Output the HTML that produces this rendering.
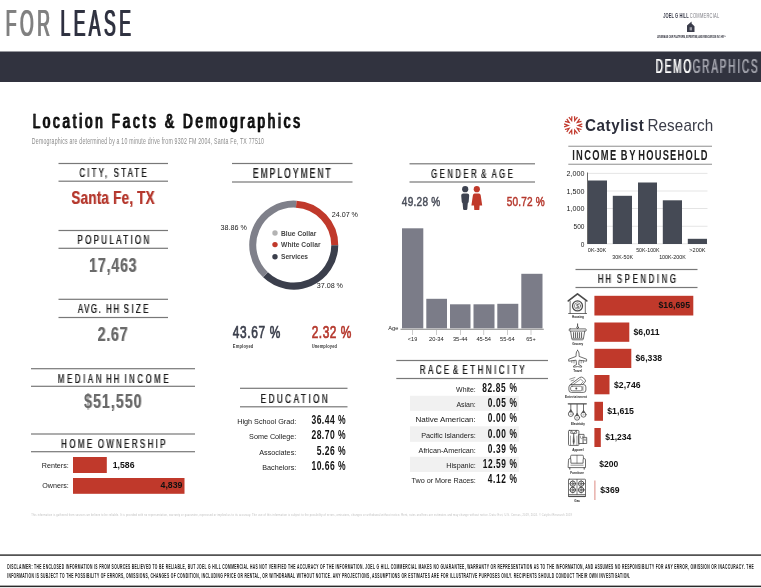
<!DOCTYPE html>
<html lang="en">
<head>
<meta charset="utf-8">
<title>For Lease - Demographics</title>
<style>
html,body{margin:0;padding:0;background:#fff;}
body{width:761px;height:588px;overflow:hidden;}
svg{display:block;will-change:transform;opacity:0.9999;}
svg text{font-family:'Liberation Sans', sans-serif;white-space:pre;}
</style>
</head>
<body>
<svg width="761" height="588" viewBox="0 0 761 588">
<defs><filter id="hb" x="-3%" y="-15%" width="106%" height="130%"><feOffset in="SourceGraphic" dx="1" dy="0" result="o"/><feMerge><feMergeNode in="SourceGraphic"/><feMergeNode in="o"/></feMerge></filter><filter id="hb5" x="-3%" y="-15%" width="106%" height="130%"><feOffset in="SourceGraphic" dx="1" dy="0" result="o"/><feComponentTransfer in="o" result="h"><feFuncA type="linear" slope="0.4"/></feComponentTransfer><feMerge><feMergeNode in="h"/><feMergeNode in="SourceGraphic"/></feMerge></filter></defs>
<rect width="761" height="588" fill="#ffffff"/>
<g id="header">
<g filter="url(#hb)"><text transform="translate(5.23,36.30) scale(0.47,1)" font-size="37.39" font-weight="normal" fill="#808080" textLength="94.30" lengthAdjust="spacing" stroke="#808080" stroke-width="0.2">FOR</text></g>
<g filter="url(#hb)"><text transform="translate(59.93,36.30) scale(0.47,1)" font-size="37.39" font-weight="normal" fill="#2f3140" textLength="149.83" lengthAdjust="spacing" stroke="#2f3140" stroke-width="0.2">LEASE</text></g>
<rect x="0.00" y="51.50" width="761.00" height="30.50" fill="#31333f"/>
<g filter="url(#hb5)"><text transform="translate(655.41,72.88) scale(0.5,1)" font-size="19.93" font-weight="normal" fill="#ffffff" textLength="71.25" lengthAdjust="spacing" stroke="#fff" stroke-width="0.25">DEMO</text></g>
<g filter="url(#hb5)"><text transform="translate(692.51,72.88) scale(0.5,1)" font-size="19.93" font-weight="normal" fill="#a3a4ad" textLength="129.85" lengthAdjust="spacing" stroke="#a3a4ad" stroke-width="0.25">GRAPHICS</text></g>
<text transform="translate(663.26,17.50) scale(0.6,1)" font-size="6.67" font-weight="bold" fill="#3a3c4a" textLength="42.23" lengthAdjust="spacing" >JOEL G HILL</text>
<text transform="translate(689.86,17.50) scale(0.6,1)" font-size="6.67" font-weight="normal" fill="#7d7d84" textLength="48.90" lengthAdjust="spacing" >COMMERCIAL</text>
<g id="house" fill="#3a3c4a"><path d="M687 25.6 L691.6 21.6 L691.6 23.6 L694.5 26.2 L694.5 32 L687 32 Z"/><rect x="689.6" y="27.2" width="2.4" height="3.2" fill="#9a9ba5"/></g>
<text transform="translate(656.92,38.00) scale(0.6,1)" font-size="3.77" font-weight="bold" fill="#33343f" textLength="115.13" lengthAdjust="spacing" >LEVERAGE OUR PLATFORM, EXPERTISE, AND RESOURCES IN 1 HR™</text>
</g>
<g id="title">
<g filter="url(#hb)"><text transform="translate(32.13,128.15) scale(0.68,1)" font-size="19.86" font-weight="normal" fill="#111" textLength="393.19" lengthAdjust="spacing" stroke="#111" stroke-width="0.3">Location Facts &amp; Demographics</text></g>
<text transform="translate(31.82,144.00) scale(0.62,1)" font-size="8.41" font-weight="normal" fill="#8c8c8c" textLength="374.49" lengthAdjust="spacing" >Demographics are determined by a 10 minute drive from 9302 FM 2004, Santa Fe, TX 77510</text>
</g>
<g id="col-left">
<g class="heading">
<rect x="58.5" y="162.90" width="109.50" height="1.2" fill="#787878"/>
<g filter="url(#hb5)"><text transform="translate(79.26,177.00) scale(0.6,1)" font-size="13.04" font-weight="normal" fill="#1e1e1e" textLength="112.00" lengthAdjust="spacing" stroke="#1e1e1e" stroke-width="0.12">CITY, STATE</text></g>
<rect x="58.5" y="180.60" width="109.50" height="1.2" fill="#787878"/>
</g>
<g filter="url(#hb5)"><text transform="translate(71.33,203.80) scale(0.7,1)" font-size="19.13" font-weight="bold" fill="#b5382d" textLength="118.81" lengthAdjust="spacing" >Santa Fe, TX</text></g>
<g class="heading">
<rect x="58.5" y="229.90" width="109.50" height="1.2" fill="#787878"/>
<g filter="url(#hb5)"><text transform="translate(77.26,244.20) scale(0.6,1)" font-size="13.33" font-weight="normal" fill="#1e1e1e" textLength="119.51" lengthAdjust="spacing" stroke="#1e1e1e" stroke-width="0.12">POPULATION</text></g>
<rect x="58.5" y="247.70" width="109.50" height="1.2" fill="#787878"/>
</g>
<g filter="url(#hb5)"><text transform="translate(89.00,271.80) scale(0.72,1)" font-size="19.71" font-weight="bold" fill="#6b6b6b" textLength="65.97" lengthAdjust="spacing" >17,463</text></g>
<g class="heading">
<rect x="58.5" y="298.70" width="109.50" height="1.2" fill="#787878"/>
<g filter="url(#hb5)"><text transform="translate(77.76,313.30) scale(0.6,1)" font-size="13.04" font-weight="normal" fill="#1e1e1e" textLength="38.34" lengthAdjust="spacing" stroke="#1e1e1e" stroke-width="0.12">AVG.</text></g>
<g filter="url(#hb5)"><text transform="translate(106.06,313.30) scale(0.6,1)" font-size="13.04" font-weight="normal" fill="#1e1e1e" textLength="21.50" lengthAdjust="spacing" stroke="#1e1e1e" stroke-width="0.12">HH</text></g>
<g filter="url(#hb5)"><text transform="translate(123.56,313.30) scale(0.6,1)" font-size="13.04" font-weight="normal" fill="#1e1e1e" textLength="41.17" lengthAdjust="spacing" stroke="#1e1e1e" stroke-width="0.12">SIZE</text></g>
<rect x="58.5" y="316.90" width="109.50" height="1.2" fill="#787878"/>
</g>
<g filter="url(#hb5)"><text transform="translate(97.50,341.20) scale(0.72,1)" font-size="20.00" font-weight="bold" fill="#6b6b6b" textLength="41.67" lengthAdjust="spacing" >2.67</text></g>
<g class="heading">
<rect x="31" y="368.10" width="164.00" height="1.2" fill="#787878"/>
<g filter="url(#hb5)"><text transform="translate(57.77,382.50) scale(0.6,1)" font-size="12.75" font-weight="normal" fill="#1e1e1e" textLength="72.49" lengthAdjust="spacing" stroke="#1e1e1e" stroke-width="0.12">MEDIAN</text></g>
<g filter="url(#hb5)"><text transform="translate(106.07,382.50) scale(0.6,1)" font-size="12.75" font-weight="normal" fill="#1e1e1e" textLength="21.49" lengthAdjust="spacing" stroke="#1e1e1e" stroke-width="0.12">HH</text></g>
<g filter="url(#hb5)"><text transform="translate(124.27,382.50) scale(0.6,1)" font-size="12.75" font-weight="normal" fill="#1e1e1e" textLength="73.33" lengthAdjust="spacing" stroke="#1e1e1e" stroke-width="0.12">INCOME</text></g>
<rect x="31" y="385.70" width="164.00" height="1.2" fill="#787878"/>
</g>
<g filter="url(#hb5)"><text transform="translate(84.00,408.00) scale(0.7,1)" font-size="20.29" font-weight="bold" fill="#6b6b6b" textLength="82.14" lengthAdjust="spacing" >$51,550</text></g>
<g class="heading">
<rect x="31" y="433.40" width="164.00" height="1.2" fill="#787878"/>
<g filter="url(#hb5)"><text transform="translate(61.06,447.80) scale(0.6,1)" font-size="13.04" font-weight="normal" fill="#1e1e1e" textLength="51.50" lengthAdjust="spacing" stroke="#1e1e1e" stroke-width="0.12">HOME</text></g>
<g filter="url(#hb5)"><text transform="translate(97.76,447.80) scale(0.6,1)" font-size="13.04" font-weight="normal" fill="#1e1e1e" textLength="112.50" lengthAdjust="spacing" stroke="#1e1e1e" stroke-width="0.12">OWNERSHIP</text></g>
<rect x="31" y="451.10" width="164.00" height="1.2" fill="#787878"/>
</g>
<rect x="73.00" y="457.00" width="33.80" height="16.00" fill="#c0392b"/>
<rect x="73.00" y="478.00" width="111.50" height="15.80" fill="#c0392b"/>
<text transform="translate(41.79,467.60) scale(1.0,1)" font-size="7.16" font-weight="normal" fill="#1a1a1a" textLength="27.01" lengthAdjust="spacing" >Renters:</text>
<text transform="translate(42.29,488.00) scale(1.0,1)" font-size="7.13" font-weight="normal" fill="#1a1a1a" textLength="26.51" lengthAdjust="spacing" >Owners:</text>
<text transform="translate(112.74,468.00) scale(1.0,1)" font-size="8.68" font-weight="bold" fill="#111" textLength="21.76" lengthAdjust="spacing" >1,586</text>
<text transform="translate(160.54,488.20) scale(1.0,1)" font-size="8.76" font-weight="bold" fill="#111" textLength="21.96" lengthAdjust="spacing" >4,839</text>
</g>
<g id="employment">
<g class="heading">
<rect x="232" y="162.90" width="120.50" height="1.2" fill="#787878"/>
<g filter="url(#hb5)"><text transform="translate(252.74,177.60) scale(0.6,1)" font-size="13.91" font-weight="normal" fill="#1e1e1e" textLength="129.53" lengthAdjust="spacing" stroke="#1e1e1e" stroke-width="0.12">EMPLOYMENT</text></g>
<rect x="232" y="181.40" width="120.50" height="1.2" fill="#787878"/>
</g>
<path d="M296.18 204.17 A41.0 41.0 0 0 1 334.75 245.14" fill="none" stroke="#c0392b" stroke-width="7.0"/>
<path d="M334.75 245.14 A41.0 41.0 0 0 1 265.51 274.82" fill="none" stroke="#3b3f4c" stroke-width="7.0"/>
<path d="M265.51 274.82 A41.0 41.0 0 0 1 296.18 204.17" fill="none" stroke="#7f808a" stroke-width="7.0"/>
<text transform="translate(331.79,216.80) scale(1.0,1)" font-size="7.16" font-weight="normal" fill="#1a1a1a" textLength="26.21" lengthAdjust="spacing" >24.07 %</text>
<text transform="translate(220.59,230.00) scale(1.0,1)" font-size="7.16" font-weight="normal" fill="#1a1a1a" textLength="26.21" lengthAdjust="spacing" >38.86 %</text>
<text transform="translate(316.79,288.20) scale(1.0,1)" font-size="7.16" font-weight="normal" fill="#1a1a1a" textLength="26.21" lengthAdjust="spacing" >37.08 %</text>
<circle cx="275" cy="233" r="2.7" fill="#b3b3b3"/>
<text transform="translate(281.07,235.60) scale(0.88,1)" font-size="7.54" font-weight="bold" fill="#454545" textLength="40.04" lengthAdjust="spacing" >Blue Collar</text>
<circle cx="275" cy="244.6" r="2.7" fill="#c0392b"/>
<text transform="translate(281.07,247.20) scale(0.88,1)" font-size="7.54" font-weight="bold" fill="#454545" textLength="44.81" lengthAdjust="spacing" >White Collar</text>
<circle cx="275" cy="256.8" r="2.7" fill="#3b3f4c"/>
<text transform="translate(281.07,259.40) scale(0.88,1)" font-size="7.54" font-weight="bold" fill="#454545" textLength="30.60" lengthAdjust="spacing" >Services</text>
<text transform="translate(232.85,338.35) scale(0.76,1)" font-size="15.65" font-weight="normal" fill="#3b3f4c" textLength="62.35" lengthAdjust="spacing" stroke="#3b3f4c" stroke-width="0.7">43.67 %</text>
<text transform="translate(232.86,348.00) scale(0.7,1)" font-size="5.80" font-weight="bold" fill="#3a3a3a" textLength="29.20" lengthAdjust="spacing" >Employed</text>
<text transform="translate(311.65,338.35) scale(0.76,1)" font-size="15.65" font-weight="normal" fill="#b5382d" textLength="52.22" lengthAdjust="spacing" stroke="#b5382d" stroke-width="0.7">2.32 %</text>
<text transform="translate(311.66,348.00) scale(0.7,1)" font-size="5.80" font-weight="bold" fill="#3a3a3a" textLength="36.20" lengthAdjust="spacing" >Unemployed</text>
</g>
<g id="education">
<g class="heading">
<rect x="240" y="387.70" width="107.50" height="1.2" fill="#787878"/>
<g filter="url(#hb5)"><text transform="translate(260.56,402.50) scale(0.6,1)" font-size="13.33" font-weight="normal" fill="#1e1e1e" textLength="111.51" lengthAdjust="spacing" stroke="#1e1e1e" stroke-width="0.12">EDUCATION</text></g>
<rect x="240" y="406.20" width="107.50" height="1.2" fill="#787878"/>
</g>
<text transform="translate(237.28,424.40) scale(1.0,1)" font-size="7.27" font-weight="normal" fill="#1a1a1a" textLength="59.02" lengthAdjust="spacing" >High School Grad:</text>
<text transform="translate(311.50,424.40) scale(0.67,1)" font-size="12.75" font-weight="bold" fill="#111" textLength="50.74" lengthAdjust="spacing" >36.44 %</text>
<text transform="translate(249.08,439.40) scale(1.0,1)" font-size="7.24" font-weight="normal" fill="#1a1a1a" textLength="47.22" lengthAdjust="spacing" >Some College:</text>
<text transform="translate(311.50,439.40) scale(0.67,1)" font-size="12.75" font-weight="bold" fill="#111" textLength="50.74" lengthAdjust="spacing" >28.70 %</text>
<text transform="translate(259.28,454.60) scale(1.0,1)" font-size="7.27" font-weight="normal" fill="#1a1a1a" textLength="37.02" lengthAdjust="spacing" >Associates:</text>
<text transform="translate(316.70,454.60) scale(0.67,1)" font-size="12.75" font-weight="bold" fill="#111" textLength="42.98" lengthAdjust="spacing" >5.26 %</text>
<text transform="translate(262.28,469.80) scale(1.0,1)" font-size="7.23" font-weight="normal" fill="#1a1a1a" textLength="34.02" lengthAdjust="spacing" >Bachelors:</text>
<text transform="translate(311.50,469.80) scale(0.67,1)" font-size="12.75" font-weight="bold" fill="#111" textLength="50.74" lengthAdjust="spacing" >10.66 %</text>
</g>
<g id="gender-age">
<g class="heading">
<rect x="409.5" y="163.20" width="125.50" height="1.2" fill="#787878"/>
<g filter="url(#hb5)"><text transform="translate(431.07,177.50) scale(0.6,1)" font-size="12.61" font-weight="normal" fill="#1e1e1e" textLength="75.65" lengthAdjust="spacing" stroke="#1e1e1e" stroke-width="0.12">GENDER</text></g>
<g filter="url(#hb5)"><text transform="translate(481.07,177.50) scale(0.6,1)" font-size="12.61" font-weight="normal" fill="#1e1e1e" textLength="10.65" lengthAdjust="spacing" stroke="#1e1e1e" stroke-width="0.12">&amp;</text></g>
<g filter="url(#hb5)"><text transform="translate(491.57,177.50) scale(0.6,1)" font-size="12.61" font-weight="normal" fill="#1e1e1e" textLength="34.82" lengthAdjust="spacing" stroke="#1e1e1e" stroke-width="0.12">AGE</text></g>
<rect x="409.5" y="181.40" width="125.50" height="1.2" fill="#787878"/>
</g>
<text transform="translate(401.84,206.35) scale(0.78,1)" font-size="12.90" font-weight="normal" fill="#4a4e5a" textLength="49.31" lengthAdjust="spacing" stroke="#4a4e5a" stroke-width="0.5">49.28 %</text>
<text transform="translate(506.64,206.35) scale(0.78,1)" font-size="12.90" font-weight="normal" fill="#b5382d" textLength="48.93" lengthAdjust="spacing" stroke="#b5382d" stroke-width="0.5">50.72 %</text>
<g fill="#3e4351"><circle cx="465.2" cy="189.2" r="3.1"/><path d="M461.2 195.6 Q461.2 193.6 463.2 193.6 L467.2 193.6 Q469.2 193.6 469.2 195.6 L468.7 201.5 Q468.6 202.8 467.8 203.2 L467.3 209 Q467.2 210 466.2 210 L464.2 210 Q463.2 210 463.1 209 L462.6 203.2 Q461.8 202.8 461.7 201.5 Z"/></g>
<g fill="#c0392b"><circle cx="476.8" cy="189.2" r="3.1"/><path d="M474.6 193.6 L479 193.6 Q480.4 193.6 480.7 195.2 L482.2 205.6 L479.6 205.6 L479.3 210 L474.3 210 L474 205.6 L471.4 205.6 L472.9 195.2 Q473.2 193.6 474.6 193.6 Z"/></g>
<rect x="402.00" y="228.30" width="21.30" height="100.10" fill="#7b7c88"/>
<rect x="426.30" y="298.80" width="20.70" height="29.60" fill="#7b7c88"/>
<rect x="450.00" y="304.30" width="20.50" height="24.10" fill="#7b7c88"/>
<rect x="473.50" y="304.30" width="21.00" height="24.10" fill="#7b7c88"/>
<rect x="497.30" y="303.80" width="21.00" height="24.60" fill="#7b7c88"/>
<rect x="521.30" y="273.80" width="21.20" height="54.60" fill="#7b7c88"/>
<rect x="400.5" y="328.70" width="143.30" height="1.2" fill="#9a9a9a"/>
<rect x="412.30" y="329.80" width="0.60" height="5.20" fill="#aaaaaa"/>
<text transform="translate(407.84,341.40) scale(1.0,1)" font-size="5.48" font-weight="normal" fill="#1a1a1a" textLength="9.36" lengthAdjust="spacing" >&lt;19</text>
<rect x="436.20" y="329.80" width="0.60" height="5.20" fill="#aaaaaa"/>
<text transform="translate(429.08,341.40) scale(1.0,1)" font-size="5.73" font-weight="normal" fill="#1a1a1a" textLength="14.67" lengthAdjust="spacing" >20-34</text>
<rect x="460.00" y="329.80" width="0.60" height="5.20" fill="#aaaaaa"/>
<text transform="translate(452.88,341.40) scale(1.0,1)" font-size="5.73" font-weight="normal" fill="#1a1a1a" textLength="14.67" lengthAdjust="spacing" >35-44</text>
<rect x="483.50" y="329.80" width="0.60" height="5.20" fill="#aaaaaa"/>
<text transform="translate(476.38,341.40) scale(1.0,1)" font-size="5.73" font-weight="normal" fill="#1a1a1a" textLength="14.67" lengthAdjust="spacing" >45-54</text>
<rect x="507.20" y="329.80" width="0.60" height="5.20" fill="#aaaaaa"/>
<text transform="translate(500.08,341.40) scale(1.0,1)" font-size="5.73" font-weight="normal" fill="#1a1a1a" textLength="14.67" lengthAdjust="spacing" >55-64</text>
<rect x="530.70" y="329.80" width="0.60" height="5.20" fill="#aaaaaa"/>
<text transform="translate(526.24,341.40) scale(1.0,1)" font-size="5.48" font-weight="normal" fill="#1a1a1a" textLength="9.36" lengthAdjust="spacing" >65+</text>
<text transform="translate(388.13,329.80) scale(1.0,1)" font-size="5.68" font-weight="normal" fill="#1a1a1a" textLength="10.17" lengthAdjust="spacing" >Age</text>
</g>
<g id="race">
<g class="heading">
<rect x="396.3" y="359.90" width="151.70" height="1.2" fill="#787878"/>
<g filter="url(#hb5)"><text transform="translate(419.77,374.30) scale(0.6,1)" font-size="12.75" font-weight="normal" fill="#1e1e1e" textLength="48.66" lengthAdjust="spacing" stroke="#1e1e1e" stroke-width="0.12">RACE</text></g>
<g filter="url(#hb5)"><text transform="translate(452.77,374.30) scale(0.6,1)" font-size="12.75" font-weight="normal" fill="#1e1e1e" textLength="10.33" lengthAdjust="spacing" stroke="#1e1e1e" stroke-width="0.12">&amp;</text></g>
<g filter="url(#hb5)"><text transform="translate(462.27,374.30) scale(0.6,1)" font-size="12.75" font-weight="normal" fill="#1e1e1e" textLength="103.66" lengthAdjust="spacing" stroke="#1e1e1e" stroke-width="0.12">ETHNICITY</text></g>
<rect x="396.3" y="377.90" width="151.70" height="1.2" fill="#787878"/>
</g>
<rect x="410.00" y="395.80" width="108.80" height="15.00" fill="#f1f1f1"/>
<rect x="410.00" y="426.30" width="108.80" height="15.50" fill="#f1f1f1"/>
<rect x="410.00" y="456.80" width="108.80" height="15.20" fill="#f1f1f1"/>
<text transform="translate(456.09,391.60) scale(1.0,1)" font-size="6.95" font-weight="normal" fill="#1a1a1a" textLength="19.71" lengthAdjust="spacing" >White:</text>
<text transform="translate(482.21,391.60) scale(0.67,1)" font-size="12.46" font-weight="bold" fill="#111" textLength="51.63" lengthAdjust="spacing" >82.85 %</text>
<text transform="translate(456.39,406.80) scale(1.0,1)" font-size="6.98" font-weight="normal" fill="#1a1a1a" textLength="19.41" lengthAdjust="spacing" >Asian:</text>
<text transform="translate(487.71,406.80) scale(0.67,1)" font-size="12.46" font-weight="bold" fill="#111" textLength="43.42" lengthAdjust="spacing" >0.05 %</text>
<text transform="translate(415.56,422.40) scale(1.0,1)" font-size="8.02" font-weight="normal" fill="#1a1a1a" textLength="60.24" lengthAdjust="spacing" >Native American:</text>
<text transform="translate(487.71,422.40) scale(0.67,1)" font-size="12.46" font-weight="bold" fill="#111" textLength="43.42" lengthAdjust="spacing" >0.00 %</text>
<text transform="translate(421.28,437.50) scale(1.0,1)" font-size="7.26" font-weight="normal" fill="#1a1a1a" textLength="54.52" lengthAdjust="spacing" >Pacific Islanders:</text>
<text transform="translate(487.71,437.50) scale(0.67,1)" font-size="12.46" font-weight="bold" fill="#111" textLength="43.42" lengthAdjust="spacing" >0.00 %</text>
<text transform="translate(418.58,452.60) scale(1.0,1)" font-size="7.24" font-weight="normal" fill="#1a1a1a" textLength="57.22" lengthAdjust="spacing" >African-American:</text>
<text transform="translate(487.71,452.60) scale(0.67,1)" font-size="12.46" font-weight="bold" fill="#111" textLength="43.42" lengthAdjust="spacing" >0.39 %</text>
<text transform="translate(446.28,467.60) scale(1.0,1)" font-size="7.20" font-weight="normal" fill="#1a1a1a" textLength="29.52" lengthAdjust="spacing" >Hispanic:</text>
<text transform="translate(482.71,467.60) scale(0.67,1)" font-size="12.46" font-weight="bold" fill="#111" textLength="50.88" lengthAdjust="spacing" >12.59 %</text>
<text transform="translate(411.58,482.60) scale(1.0,1)" font-size="7.22" font-weight="normal" fill="#1a1a1a" textLength="64.22" lengthAdjust="spacing" >Two or More Races:</text>
<text transform="translate(487.71,482.60) scale(0.67,1)" font-size="12.46" font-weight="bold" fill="#111" textLength="43.42" lengthAdjust="spacing" >4.12 %</text>
</g>
<g id="catylist">
<g stroke="#c23a2e" stroke-width="1.25" fill="none" stroke-linecap="butt" stroke-linejoin="miter">
<path transform="rotate(18 573.2 125.4)" d="M571.65 116.30 L573.20 120.40 L574.75 116.30"/>
<path transform="rotate(54 573.2 125.4)" d="M571.65 116.30 L573.20 120.40 L574.75 116.30"/>
<path transform="rotate(90 573.2 125.4)" d="M571.65 116.30 L573.20 120.40 L574.75 116.30"/>
<path transform="rotate(126 573.2 125.4)" d="M571.65 116.30 L573.20 120.40 L574.75 116.30"/>
<path transform="rotate(162 573.2 125.4)" d="M571.65 116.30 L573.20 120.40 L574.75 116.30"/>
<path transform="rotate(198 573.2 125.4)" d="M571.65 116.30 L573.20 120.40 L574.75 116.30"/>
<path transform="rotate(234 573.2 125.4)" d="M571.65 116.30 L573.20 120.40 L574.75 116.30"/>
<path transform="rotate(270 573.2 125.4)" d="M571.65 116.30 L573.20 120.40 L574.75 116.30"/>
<path transform="rotate(306 573.2 125.4)" d="M571.65 116.30 L573.20 120.40 L574.75 116.30"/>
<path transform="rotate(342 573.2 125.4)" d="M571.65 116.30 L573.20 120.40 L574.75 116.30"/>
</g>
<text transform="translate(585.07,130.80) scale(0.93,1)" font-size="16.38" font-weight="bold" fill="#2b2d3a" textLength="63.15" lengthAdjust="spacing" >Catylist</text>
<text transform="translate(647.47,130.80) scale(0.93,1)" font-size="16.38" font-weight="normal" fill="#3a3c48" textLength="70.79" lengthAdjust="spacing" >Research</text>
</g>
<g id="income">
<g class="heading">
<rect x="568.3" y="145.65" width="143.70" height="1.3" fill="#a8a8a8"/>
<text transform="translate(572.17,160.10) scale(0.65,1)" font-size="14.35" font-weight="bold" fill="#222" textLength="67.73" lengthAdjust="spacing" >INCOME</text>
<text transform="translate(620.87,160.10) scale(0.65,1)" font-size="14.35" font-weight="bold" fill="#222" textLength="22.35" lengthAdjust="spacing" >BY</text>
<text transform="translate(638.27,160.10) scale(0.65,1)" font-size="14.35" font-weight="bold" fill="#222" textLength="106.66" lengthAdjust="spacing" >HOUSEHOLD</text>
<rect x="568.3" y="163.65" width="143.70" height="1.3" fill="#a8a8a8"/>
</g>
<rect x="587.5" y="172.90" width="120.00" height="0.8" fill="#dedede"/>
<text transform="translate(566.48,176.00) scale(1.0,1)" font-size="7.18" font-weight="normal" fill="#1a1a1a" textLength="18.02" lengthAdjust="spacing" >2,000</text>
<rect x="587.5" y="190.60" width="120.00" height="0.8" fill="#dedede"/>
<text transform="translate(566.48,193.70) scale(1.0,1)" font-size="7.18" font-weight="normal" fill="#1a1a1a" textLength="18.02" lengthAdjust="spacing" >1,500</text>
<rect x="587.5" y="208.20" width="120.00" height="0.8" fill="#dedede"/>
<text transform="translate(566.48,211.30) scale(1.0,1)" font-size="7.18" font-weight="normal" fill="#1a1a1a" textLength="18.02" lengthAdjust="spacing" >1,000</text>
<rect x="587.5" y="225.80" width="120.00" height="0.8" fill="#dedede"/>
<text transform="translate(573.50,228.90) scale(1.0,1)" font-size="6.54" font-weight="normal" fill="#1a1a1a" textLength="11.00" lengthAdjust="spacing" >500</text>
<rect x="587.5" y="243.40" width="120.00" height="0.8" fill="#dedede"/>
<text transform="translate(580.70,246.50) scale(1.0,1)" font-size="6.54" font-weight="normal" fill="#1a1a1a" textLength="3.80" lengthAdjust="spacing" >0</text>
<rect x="587" y="172.50" width="1.00" height="0" fill="#555"/>
<rect x="587.20" y="172.50" width="0.80" height="71.50" fill="#444"/>
<rect x="588.00" y="180.50" width="19.00" height="63.50" fill="#454a55"/>
<rect x="612.80" y="195.80" width="19.20" height="48.20" fill="#454a55"/>
<rect x="638.00" y="182.50" width="19.00" height="61.50" fill="#454a55"/>
<rect x="662.80" y="200.30" width="19.20" height="43.70" fill="#454a55"/>
<rect x="687.80" y="238.80" width="19.20" height="5.20" fill="#454a55"/>
<text transform="translate(587.83,252.00) scale(1.0,1)" font-size="5.54" font-weight="normal" fill="#1a1a1a" textLength="18.47" lengthAdjust="spacing" >0K-30K</text>
<text transform="translate(636.14,252.00) scale(1.0,1)" font-size="5.27" font-weight="normal" fill="#1a1a1a" textLength="23.36" lengthAdjust="spacing" >50K-100K</text>
<text transform="translate(689.33,252.00) scale(1.0,1)" font-size="5.54" font-weight="normal" fill="#1a1a1a" textLength="16.17" lengthAdjust="spacing" >&gt;200K</text>
<text transform="translate(612.34,259.30) scale(1.0,1)" font-size="5.32" font-weight="normal" fill="#1a1a1a" textLength="20.66" lengthAdjust="spacing" >30K-50K</text>
<text transform="translate(659.14,259.30) scale(1.0,1)" font-size="5.35" font-weight="normal" fill="#1a1a1a" textLength="26.66" lengthAdjust="spacing" >100K-200K</text>
</g>
<g id="spending">
<g class="heading">
<rect x="575.5" y="268.90" width="122.00" height="1.2" fill="#787878"/>
<g filter="url(#hb5)"><text transform="translate(597.77,283.30) scale(0.6,1)" font-size="12.75" font-weight="normal" fill="#1e1e1e" textLength="21.66" lengthAdjust="spacing" stroke="#1e1e1e" stroke-width="0.12">HH</text></g>
<g filter="url(#hb5)"><text transform="translate(616.77,283.30) scale(0.6,1)" font-size="12.75" font-weight="normal" fill="#1e1e1e" textLength="98.33" lengthAdjust="spacing" stroke="#1e1e1e" stroke-width="0.12">SPENDING</text></g>
<rect x="575.5" y="286.90" width="122.00" height="1.2" fill="#787878"/>
</g>
<rect x="594.40" y="295.80" width="98.90" height="19.70" fill="#c0392b"/>
<text transform="translate(658.54,308.30) scale(1.0,1)" font-size="8.72" font-weight="bold" fill="#111" textLength="31.46" lengthAdjust="spacing" >$16,695</text>
<rect x="594.40" y="322.50" width="34.90" height="19.30" fill="#c0392b"/>
<text transform="translate(633.54,334.60) scale(1.0,1)" font-size="8.64" font-weight="bold" fill="#111" textLength="25.96" lengthAdjust="spacing" >$6,011</text>
<rect x="594.40" y="348.80" width="36.90" height="19.20" fill="#c0392b"/>
<text transform="translate(635.54,360.80) scale(1.0,1)" font-size="8.65" font-weight="bold" fill="#111" textLength="26.46" lengthAdjust="spacing" >$6,338</text>
<rect x="594.40" y="375.00" width="15.10" height="19.30" fill="#c0392b"/>
<text transform="translate(614.04,387.50) scale(1.0,1)" font-size="8.65" font-weight="bold" fill="#111" textLength="26.46" lengthAdjust="spacing" >$2,746</text>
<rect x="594.40" y="401.80" width="8.60" height="19.00" fill="#c0392b"/>
<text transform="translate(607.24,414.00) scale(1.0,1)" font-size="8.75" font-weight="bold" fill="#111" textLength="26.76" lengthAdjust="spacing" >$1,615</text>
<rect x="594.40" y="428.00" width="6.40" height="19.00" fill="#c0392b"/>
<text transform="translate(605.24,440.00) scale(1.0,1)" font-size="8.52" font-weight="bold" fill="#111" textLength="26.06" lengthAdjust="spacing" >$1,234</text>
<text transform="translate(599.24,466.80) scale(1.0,1)" font-size="8.54" font-weight="bold" fill="#111" textLength="19.06" lengthAdjust="spacing" >$200</text>
<rect x="594.40" y="480.50" width="1.00" height="19.50" fill="#dd8a82"/>
<text transform="translate(600.24,493.00) scale(1.0,1)" font-size="8.63" font-weight="bold" fill="#111" textLength="19.26" lengthAdjust="spacing" >$369</text>
</g>
<g id="spend-icons" fill="none" stroke="#4a4a4a" stroke-width="0.8" stroke-linecap="round" stroke-linejoin="round">
<g id="ic-housing"><path d="M568.3 300.9 L577.5 293.9 L586.8 300.9" stroke-width="1.7"/><path d="M570.1 301.2 V313.4 M585.3 301.2 V313.4 M568.6 313.5 H586.6"/><circle cx="577.5" cy="305.9" r="5.0" stroke-width="1.3"/><circle cx="577.5" cy="305.9" r="3.1" stroke-width="0.6"/></g>
<g id="ic-grocery"><path d="M577.6 323.9 V328.6" stroke-width="1.0"/><circle cx="577.6" cy="327.4" r="0.9" fill="#fff"/><rect x="569.1" y="328.9" width="17.2" height="2.2" rx="1"/><path d="M570.6 331.2 L571.9 339.2 Q572 339.8 572.8 339.8 L582.4 339.8 Q583.2 339.8 583.3 339.2 L584.7 331.2"/><path d="M573.6 332.6 V337.6 M575.6 332.6 V337.6 M577.6 332.6 V337.6 M579.6 332.6 V337.6 M581.6 332.6 V337.6" stroke-width="0.9"/><path d="M572.6 338.4 H582.6" stroke-width="0.6"/></g>
<g id="ic-travel"><path d="M577.6 350.3 Q579.1 351.6 579.1 354 L579.1 356.4 L586.6 359.2 L586.6 361.2 L579.1 360.2 L578.7 364.6 L581.6 366 L581.6 367.2 L577.6 366.6 L573.6 367.2 L573.6 366 L576.5 364.6 L576.1 360.2 L568.7 361.2 L568.7 359.2 L576.1 356.4 L576.1 354 Q576.1 351.6 577.6 350.3 Z"/><path d="M571.8 360.9 V362.6 M574 360.6 V363 M581.2 360.6 V363 M583.4 360.9 V362.6" stroke-width="0.6"/></g>
<g id="ic-entertainment"><rect x="568.9" y="384.6" width="17" height="7.8" rx="2.4"/><rect x="570.6" y="386.2" width="11.4" height="4.6" rx="1.6" stroke-width="0.7"/><circle cx="576.3" cy="388.5" r="1.0" fill="#4a4a4a" stroke="none"/><path d="M582.9 386.4 V390.8" stroke-width="0.6" stroke-dasharray="0.9 0.7"/><path d="M570.6 384.4 L579.6 377.6 Q581.4 376.5 582.9 377.6 L585.1 379.6 Q586.1 380.9 584.9 382.3 L582.6 384.4"/><path d="M573.4 384.4 L580.6 379.2 L583.4 381.6 L580.6 384.4" stroke-width="0.6"/><path d="M569.7 379.2 L574.9 377.5 M571.1 380.9 L573.9 380.0" stroke-width="0.6"/></g>
<g id="ic-electricity"><path d="M568.3 403.8 H586.3" stroke-width="1.3"/><path d="M570.8 404.4 V410 M577.1 404.4 V413.6 M583.5 404.4 V410.6"/><path d="M569.7 411.6 L570.8 409.6 L571.9 411.6 Z M576 415.3 L577.1 413.3 L578.2 415.3 Z M582.4 412.3 L583.5 410.3 L584.6 412.3 Z" fill="#4a4a4a"/><circle cx="570.8" cy="414.0" r="2.5"/><circle cx="577.1" cy="417.7" r="2.5"/><circle cx="583.5" cy="414.7" r="2.5"/><path d="M570.2 414.2 H571.4 M576.5 417.9 H577.7 M582.9 414.9 H584.1" stroke-width="0.5"/></g>
<g id="ic-apparel"><rect x="568.5" y="430.4" width="10.4" height="15" rx="0.8"/><path d="M571.2 430.5 L573.7 433.6 L576.2 430.5 M571.2 430.5 L570.6 433.2 L573.7 433.6 L576.8 433.2 L576.2 430.5" stroke-width="0.7"/><path d="M573.7 433.8 L573.0 441.6 L573.7 444.6 L574.4 441.6 Z" fill="#4a4a4a" stroke-width="0.5"/><path d="M570.5 436 V445 M576.9 436 V445" stroke-width="0.5"/><rect x="579" y="434.4" width="5" height="9.1"/><rect x="583.4" y="437.4" width="3.3" height="6.1" fill="#fff"/><path d="M580.4 436.2 V438 Q581.5 439.2 582.6 438 V436.2 M584.3 439 V440.2 Q585 441 585.8 440.2 V439" stroke-width="0.5"/></g>
<g id="ic-furniture"><path d="M570.6 458.6 V456.3 Q570.6 455.2 571.7 455.2 H582.3 Q583.4 455.2 583.4 456.3 V458.6"/><path d="M577 455.4 V463" stroke-width="0.6"/><path d="M568.5 459.8 Q568.5 458.6 569.7 458.6 Q570.9 458.6 570.9 459.8 V463.2 H583.1 V459.8 Q583.1 458.6 584.3 458.6 Q585.5 458.6 585.5 459.8 V467.6 H568.5 Z"/><path d="M570.9 465.2 H583.1" stroke-width="0.6"/><path d="M569.8 467.8 V469.2 M584.2 467.8 V469.2" stroke-width="1.0"/></g>
<g id="ic-gas"><rect x="568.5" y="479.2" width="17" height="17.4" rx="0.6"/><path d="M577 479.4 V494.4 M568.7 494.5 H585.3" stroke-width="0.7"/><path d="M568.7 496.3 H585.3" stroke-width="1.2"/>
<circle cx="572.8" cy="483.7" r="2.7" stroke-width="1.0"/><circle cx="572.8" cy="483.7" r="1.0" stroke-width="0.6"/><path d="M569.5 483.7 H576.0999999999999 M572.8 480.4 V487.0" stroke-width="0.45"/>
<circle cx="581.2" cy="483.7" r="2.7" stroke-width="1.0"/><circle cx="581.2" cy="483.7" r="1.0" stroke-width="0.6"/><path d="M577.9000000000001 483.7 H584.5 M581.2 480.4 V487.0" stroke-width="0.45"/>
<circle cx="572.8" cy="489.9" r="2.7" stroke-width="1.0"/><circle cx="572.8" cy="489.9" r="1.0" stroke-width="0.6"/><path d="M569.5 489.9 H576.0999999999999 M572.8 486.59999999999997 V493.2" stroke-width="0.45"/>
<circle cx="581.2" cy="489.9" r="2.7" stroke-width="1.0"/><circle cx="581.2" cy="489.9" r="1.0" stroke-width="0.6"/><path d="M577.9000000000001 489.9 H584.5 M581.2 486.59999999999997 V493.2" stroke-width="0.45"/>
</g>
</g>
<g id="spend-labels">
<text x="577.5" y="307.6" font-size="4.8" font-weight="bold" fill="#444" text-anchor="middle">$</text>
<text transform="translate(572.00,318.40) scale(0.78,1)" font-size="3.91" font-weight="bold" fill="#222" textLength="15.38" lengthAdjust="spacing">Housing</text>
<text transform="translate(572.20,344.90) scale(0.78,1)" font-size="3.91" font-weight="bold" fill="#222" textLength="14.23" lengthAdjust="spacing">Grocery</text>
<text transform="translate(573.30,371.70) scale(0.78,1)" font-size="3.91" font-weight="bold" fill="#222" textLength="11.15" lengthAdjust="spacing">Travel</text>
<text transform="translate(565.10,398.30) scale(0.78,1)" font-size="3.91" font-weight="bold" fill="#222" textLength="28.08" lengthAdjust="spacing">Entertainment</text>
<text transform="translate(571.00,424.80) scale(0.78,1)" font-size="3.91" font-weight="bold" fill="#222" textLength="17.95" lengthAdjust="spacing">Electricity</text>
<text transform="translate(572.20,450.80) scale(0.78,1)" font-size="3.91" font-weight="bold" fill="#222" textLength="14.74" lengthAdjust="spacing">Apparel</text>
<text transform="translate(570.20,474.20) scale(0.78,1)" font-size="3.91" font-weight="bold" fill="#222" textLength="17.69" lengthAdjust="spacing">Furniture</text>
<text transform="translate(574.30,501.80) scale(0.78,1)" font-size="3.91" font-weight="bold" fill="#222" textLength="7.31" lengthAdjust="spacing">Gas</text>
</g>
<g id="footer">
<text transform="translate(31.21,516.30) scale(0.8,1)" font-size="3.19" font-weight="normal" fill="#bcbcbc" textLength="675.99" lengthAdjust="spacing" >This information is gathered from sources we believe to be reliable. It is provided with no representation, warranty or guarantee, expressed or implied as to its accuracy. The use of this information is subject to the possibility of errors, omissions, changes or withdrawal without notice. Rent, rates and fees are estimates and may change without notice. Data: Esri, U.S. Census, 2019, 2024. © Catylist Research 2019</text>
<rect x="0.00" y="554.40" width="761.00" height="1.40" fill="#2a2a2a"/>
<rect x="0.00" y="585.60" width="761.00" height="1.50" fill="#2a2a2a"/>
<text transform="translate(7.18,569.00) scale(0.5,1)" font-size="6.67" font-weight="bold" fill="#1a1a1a" textLength="1493.03" lengthAdjust="spacing" >DISCLAIMER: THE ENCLOSED INFORMATION IS FROM SOURCES BELIEVED TO BE RELIABLE, BUT JOEL G HILL COMMERCIAL HAS NOT VERIFIED THE ACCURACY OF THE INFORMATION. JOEL G HILL COMMERCIAL MAKES NO GUARANTEE, WARRANTY OR REPRESENTATION AS TO THE INFORMATION, AND ASSUMES NO RESPONSIBILITY FOR ANY ERROR, OMISSION OR INACCURACY. THE</text>
<text transform="translate(7.18,577.70) scale(0.5,1)" font-size="6.67" font-weight="bold" fill="#1a1a1a" textLength="1246.23" lengthAdjust="spacing" >INFORMATION IS SUBJECT TO THE POSSIBILITY OF ERRORS, OMISSIONS, CHANGES OF CONDITION, INCLUDING PRICE OR RENTAL, OR WITHDRAWAL WITHOUT NOTICE. ANY PROJECTIONS, ASSUMPTIONS OR ESTIMATES ARE FOR ILLUSTRATIVE PURPOSES ONLY. RECIPIENTS SHOULD CONDUCT THEIR OWN INVESTIGATION.</text>
</g>
</svg>
</body>
</html>
